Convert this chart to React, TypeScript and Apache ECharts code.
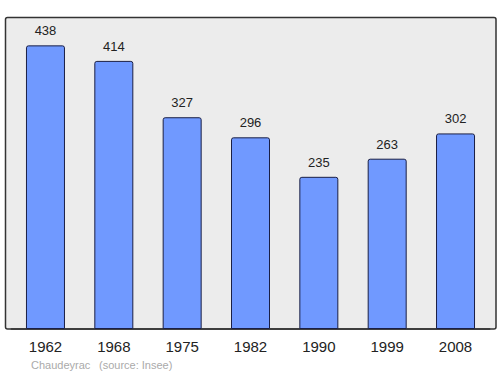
import React, { useEffect, useRef } from "react";
import * as echarts from "echarts";

const years = ["1962", "1968", "1975", "1982", "1990", "1999", "2008"];
const population = [438, 414, 327, 296, 235, 263, 302];
const footerPlace = "Chaudeyrac";
const footerSource = "(source: Insee)";

export default function App() {
  const ref = useRef<HTMLDivElement>(null);
  useEffect(() => {
    if (!ref.current) return;
    const chart = echarts.init(ref.current, null, { renderer: "svg" });
    chart.setOption({
      animation: false,
      textStyle: { fontFamily: "Liberation Sans, Arial, sans-serif" },
      graphic: [
        {
          type: "rect",
          z: -10,
          shape: { x: 5.5, y: 17.5, width: 490.5, height: 311.5, r: 2 },
          style: { fill: "#ececec", stroke: "#333333", lineWidth: 1.5 },
        },
        {
          type: "text",
          x: 31,
          y: 359,
          style: { text: footerPlace, fill: "#aaaaaa", fontSize: 11, fontFamily: "Liberation Sans, Arial, sans-serif" },
        },
        {
          type: "text",
          x: 99,
          y: 359,
          style: { text: footerSource, fill: "#aaaaaa", fontSize: 11, fontFamily: "Liberation Sans, Arial, sans-serif" },
        },
      ],
      grid: { left: 11.3, right: 10.3, top: 17, bottom: 45, containLabel: false },
      xAxis: {
        type: "category",
        data: years,
        axisLine: { show: true, lineStyle: { color: "#333333", width: 1.5 } },
        axisTick: { show: false },
        axisLabel: { color: "#222222", fontSize: 15, margin: 10 },
      },
      yAxis: {
        type: "value",
        min: 0,
        max: 481.8,
        show: false,
        splitLine: { show: false },
      },
      series: [
        {
          type: "bar",
          data: population,
          barWidth: 39,
          itemStyle: { color: "#7099ff", borderColor: "#1a1f45", borderWidth: 1, borderRadius: [2, 2, 0, 0] },
          label: { show: true, position: "top", distance: 8, color: "#222222", fontSize: 13 },
        },
      ],
    });
    return () => chart.dispose();
  }, []);
  return <div ref={ref} style={{ width: 500, height: 374, position: "absolute", left: 0, top: 0 }} />;
}
